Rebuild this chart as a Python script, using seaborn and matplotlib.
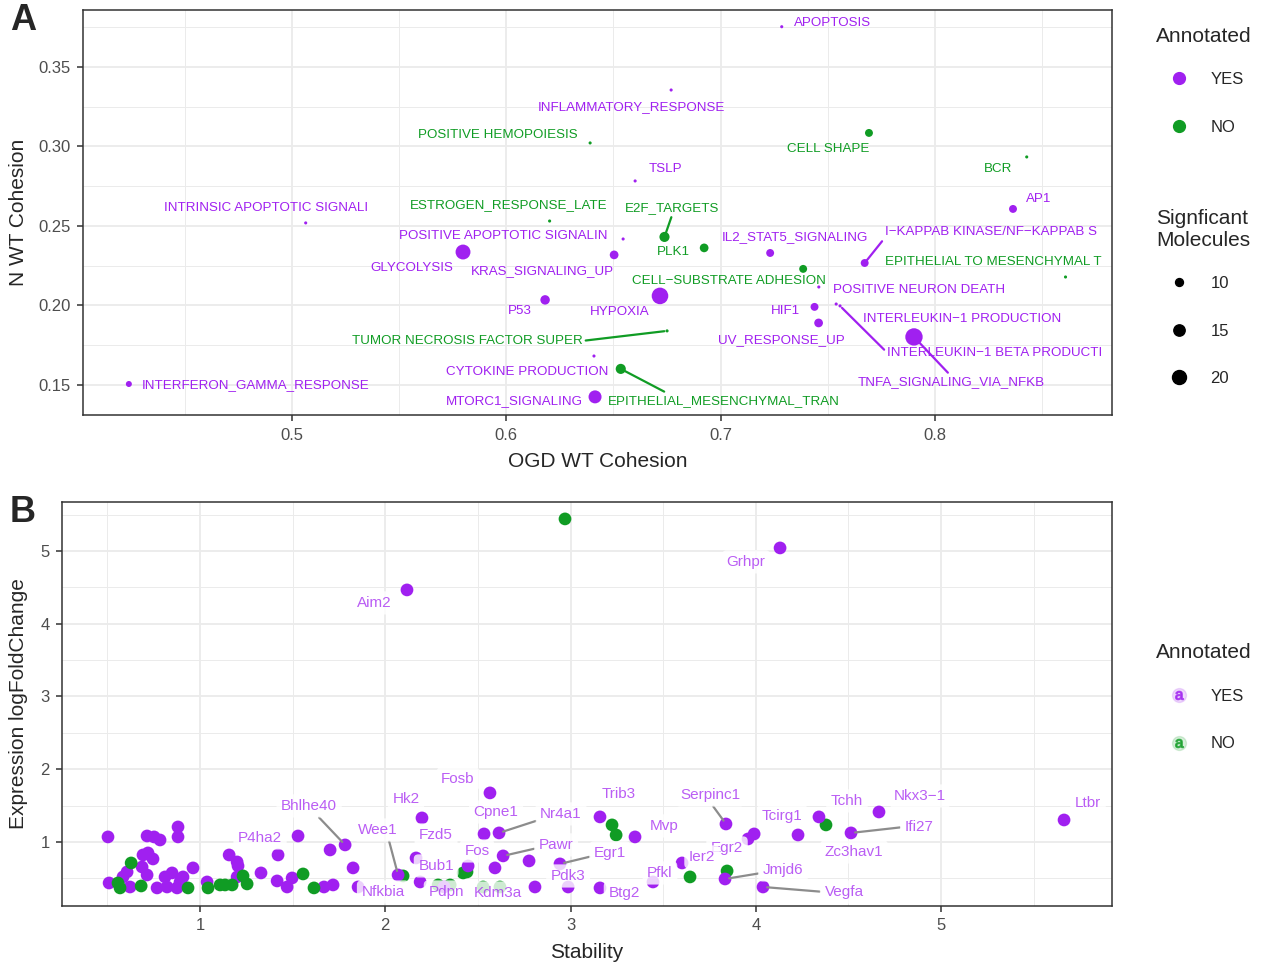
import matplotlib
matplotlib.use("Agg")
import matplotlib.pyplot as plt
from matplotlib.lines import Line2D
from matplotlib.ticker import MultipleLocator
import pandas as pd
import seaborn as sns

# ---- panel A: pathway cohesion ----
pathways = [
    "APOPTOSIS", "INFLAMMATORY_RESPONSE", "POSITIVE HEMOPOIESIS", "CELL SHAPE", "BCR",
    "TSLP", "AP1", "INTRINSIC APOPTOTIC SIGNALI", "ESTROGEN_RESPONSE_LATE",
    "POSITIVE APOPTOTIC SIGNALIN", "E2F_TARGETS", "PLK1", "GLYCOLYSIS", "KRAS_SIGNALING_UP",
    "IL2_STAT5_SIGNALING", "CELL\u2212SUBSTRATE ADHESION", "I\u2212KAPPAB KINASE/NF\u2212KAPPAB S",
    "EPITHELIAL TO MESENCHYMAL T", "POSITIVE NEURON DEATH", "HYPOXIA", "P53", "HIF1",
    "UV_RESPONSE_UP", "INTERLEUKIN\u22121 PRODUCTION", "INTERLEUKIN\u22121 BETA PRODUCTI",
    "TNFA_SIGNALING_VIA_NFKB", "TUMOR NECROSIS FACTOR SUPER", "CYTOKINE PRODUCTION",
    "EPITHELIAL_MESENCHYMAL_TRAN", "MTORC1_SIGNALING", "INTERFERON_GAMMA_RESPONSE",
]
ogd_cohesion = [0.7285, 0.6769, 0.6391, 0.7692, 0.8428, 0.6601, 0.8364, 0.5064, 0.6202,
                0.6545, 0.6738, 0.6923, 0.5798, 0.6503, 0.7231, 0.7385, 0.7672, 0.8609,
                0.7458, 0.6717, 0.6181, 0.7438, 0.7457, 0.7539, 0.7557, 0.7902, 0.6750,
                0.6409, 0.6534, 0.6414, 0.4239]
n_cohesion = [0.3753, 0.3355, 0.3022, 0.3085, 0.2934, 0.2783, 0.2607, 0.2519, 0.2531,
              0.2418, 0.2431, 0.2362, 0.2336, 0.2318, 0.2330, 0.2230, 0.2267, 0.2179,
              0.2116, 0.2060, 0.2035, 0.1991, 0.1890, 0.2009, 0.1997, 0.1802, 0.1840,
              0.1682, 0.1601, 0.1425, 0.1506]
annotated_a = ["YES", "YES", "NO", "NO", "NO", "YES", "YES", "YES", "NO", "YES", "NO", "NO",
               "YES", "YES", "YES", "NO", "YES", "NO", "YES", "YES", "YES", "YES", "YES",
               "YES", "YES", "YES", "NO", "YES", "NO", "YES", "YES"]
sig_molecules = [6, 6, 6, 10, 6, 6, 10, 6, 6, 6, 13, 11, 22, 11, 10, 10, 10, 6, 6, 26, 12,
                 10, 11, 6, 6, 28, 6, 6, 13, 18, 8]

# label placement (pixels from the point, y down) and repel segments (label attach point)
lab_dx_a = [51, -40, -92, -41, -29, 30, 26, -40, -41, -120, 8, -31, -51, -72, 25, -74, 126,
            -72, 100, -40, -25, -29, -37, 126, 155, 37, -200, -67, 103, -81, 127]
lab_dy_a = [-4, 17, -8, 16, 12, -12, -10, -15, -16, -3, -29, 4, 16, 16, -16, 12, -31, -15,
            3, 16, 11, 4, 17, 15, 47, 45, 10, 16, 32, 4, 1]
seg_a = {"E2F_TARGETS": (0.5, 0), "I\u2212KAPPAB KINASE/NF\u2212KAPPAB S": (0, 0),
         "INTERLEUKIN\u22121 BETA PRODUCTI": (0, 0.5), "TNFA_SIGNALING_VIA_NFKB": (0.5, 1),
         "TUMOR NECROSIS FACTOR SUPER": (1, 0.5), "EPITHELIAL_MESENCHYMAL_TRAN": (0.27, 1)}

# ---- panel B: gene stability vs expression ----
genes = ["Aim2", "Grhpr", "P4ha2", "Bhlhe40", "Wee1", "Nfkbia", "Hk2", "Fosb", "Cpne1",
         "Nr4a1", "Fzd5", "Bub1", "Pdpn", "Fos", "Pawr", "Kdm3a", "Egr1", "Pdk3", "Btg2",
         "Pfkl", "Egr2", "Ier2", "Mvp", "Trib3", "Serpinc1", "Jmjd6", "Vegfa", "Tcirg1",
         "Tchh", "Zc3hav1", "Ifi27", "Nkx3\u22121", "Ltbr"]
gene_stability = [2.117, 4.131, 1.421, 1.783, 2.069, 1.853, 2.198, 2.565, 2.533, 2.614,
                  2.166, 2.188, 2.317, 2.447, 2.636, 2.808, 2.943, 2.987, 3.159, 3.445,
                  3.958, 3.602, 3.348, 3.159, 3.839, 3.834, 4.039, 3.991, 4.341, 4.228,
                  4.514, 4.665, 5.664]
gene_lfc = [4.464, 5.041, 0.821, 0.959, 0.546, 0.381, 1.330, 1.674, 1.110, 1.124, 0.780,
            0.450, 0.381, 0.670, 0.808, 0.381, 0.698, 0.381, 0.368, 0.450, 1.041, 0.711,
            1.069, 1.344, 1.247, 0.491, 0.381, 1.110, 1.344, 1.096, 1.124, 1.412, 1.302]
lab_dx_b = [-33, -34, -18, -36, -20, 25, -16, -32, 12, 62, 20, 16, 2, 9, 53, -37, 50, 0,
            24, 7, -21, 20, 29, 19, -16, 58, 81, 28, 28, 56, 68, 41, 24]
lab_dy_b = [13, 14, -17, -39, -45, 5, -19, -14, -22, -19, -23, -16, 5, -15, -11, 6, -11,
            -11, 5, -9, 9, -6, -11, -23, -29, -9, 5, -18, -16, 17, -6, -16, -17]
seg_b = {"Bhlhe40": (0.6, 0), "Wee1": (0.75, 0), "Nr4a1": (0, 0.1), "Pawr": (0, 0.3),
         "Egr1": (0, 0.3), "Serpinc1": (0.5, 0), "Jmjd6": (0, 0.3), "Vegfa": (0, 0.5),
         "Ifi27": (0, 0.5)}

# unlabelled molecules
other_yes_stab = [0.503, 0.714, 0.752, 0.784, 0.881, 0.881, 0.692, 0.719, 0.746, 0.687,
                  0.606, 0.584, 0.714, 0.509, 0.622, 0.768, 0.811, 0.849, 0.822, 0.876,
                  0.908, 0.892, 0.962, 1.038, 1.157, 1.200, 1.205, 1.200, 1.329, 1.416,
                  1.470, 1.497, 1.529, 1.669, 1.718, 1.702, 1.826, 2.592, 2.776]
other_yes_lfc = [1.069, 1.082, 1.069, 1.027, 1.206, 1.069, 0.821, 0.849, 0.766, 0.656,
                 0.588, 0.519, 0.546, 0.436, 0.381, 0.368, 0.519, 0.574, 0.381, 0.368,
                 0.519, 0.450, 0.643, 0.450, 0.821, 0.725, 0.670, 0.519, 0.574, 0.464,
                 0.381, 0.505, 1.082, 0.381, 0.409, 0.890, 0.643, 0.643, 0.739]
other_no_stab = [0.557, 0.568, 0.628, 0.682, 0.935, 1.043, 1.108, 1.135, 1.173, 1.232,
                 1.254, 1.556, 1.615, 2.096, 2.285, 2.350, 2.420, 2.441, 2.528, 2.619,
                 3.224, 3.246, 3.645, 3.845, 4.379, 2.970]
other_no_lfc = [0.436, 0.368, 0.711, 0.395, 0.368, 0.368, 0.409, 0.409, 0.409, 0.533,
                0.423, 0.560, 0.368, 0.533, 0.409, 0.409, 0.574, 0.588, 0.381, 0.381,
                1.234, 1.096, 0.519, 0.601, 1.234, 5.440]

purple = "#A020F0"
green = "#109C24"
palette = {"YES": purple, "NO": green}
SIZE_NORM = (6, 30)
SIZES = (5, 170)


def size_area(v):
    return SIZES[0] + (v - SIZE_NORM[0]) / (SIZE_NORM[1] - SIZE_NORM[0]) * (SIZES[1] - SIZES[0])


sns.set_theme(style="whitegrid")
plt.rcParams["font.family"] = ["Liberation Sans", "DejaVu Sans"]


def style_axes(ax, major_x, minor_x, major_y, minor_y):
    ax.xaxis.set_major_locator(MultipleLocator(major_x))
    ax.xaxis.set_minor_locator(MultipleLocator(minor_x))
    ax.yaxis.set_major_locator(MultipleLocator(major_y))
    ax.yaxis.set_minor_locator(MultipleLocator(minor_y))
    ax.grid(which="major", color="#EBEBEB", lw=1.3)
    ax.grid(which="minor", color="#EBEBEB", lw=0.7)
    ax.set_axisbelow(True)
    for sp in ax.spines.values():
        sp.set_color("#333333")
        sp.set_linewidth(1.1)
    ax.tick_params(which="major", length=4, width=1.1, color="#333333",
                   labelsize=12, labelcolor="#4D4D4D", bottom=True, left=True, pad=5)
    ax.tick_params(which="minor", length=0)


fig = plt.figure(figsize=(12.69, 9.64), dpi=100)
axA = fig.add_axes([0.0654, 0.5695, 0.8109, 0.4201])
axB = fig.add_axes([0.0489, 0.0602, 0.8274, 0.4191])

dfA = pd.DataFrame({"pathway": pathways, "ogd": ogd_cohesion, "n": n_cohesion,
                    "annotated": annotated_a, "sig": sig_molecules,
                    "dx": lab_dx_a, "dy": lab_dy_a})
sns.scatterplot(data=dfA, x="ogd", y="n", hue="annotated", size="sig", palette=palette,
                sizes=SIZES, size_norm=SIZE_NORM, linewidth=0, legend=False, ax=axA, zorder=3)
for _, r in dfA.iterrows():
    col = palette[r["annotated"]]
    kw = {}
    if r["pathway"] in seg_a:
        kw["arrowprops"] = dict(arrowstyle="-", color=col, lw=1.6, shrinkA=0, shrinkB=2,
                                relpos=seg_a[r["pathway"]])
    axA.annotate(r["pathway"], (r["ogd"], r["n"]), xytext=(r["dx"], -r["dy"]),
                 textcoords="offset pixels", ha="center", va="center", color=col,
                 fontsize=9.6, zorder=4, **kw)
style_axes(axA, 0.1, 0.05, 0.05, 0.025)
axA.set_xlim(0.4025, 0.8826)
axA.set_ylim(0.1311, 0.3858)
axA.set_xlabel("OGD WT Cohesion", fontsize=15, labelpad=6.5)
axA.set_ylabel("N WT Cohesion", fontsize=15, labelpad=7)

dfB_lab = pd.DataFrame({"gene": genes, "stab": gene_stability, "lfc": gene_lfc,
                        "dx": lab_dx_b, "dy": lab_dy_b})
dfB = pd.concat([
    pd.DataFrame({"stab": other_yes_stab, "lfc": other_yes_lfc, "annotated": "YES"}),
    pd.DataFrame({"stab": other_no_stab, "lfc": other_no_lfc, "annotated": "NO"}),
    pd.DataFrame({"stab": gene_stability, "lfc": gene_lfc, "annotated": "YES"}),
], ignore_index=True)
sns.scatterplot(data=dfB, x="stab", y="lfc", hue="annotated", palette=palette, s=84,
                linewidth=0, legend=False, ax=axB, zorder=3)
text_col = matplotlib.colors.to_rgba(purple, 0.72)
for _, r in dfB_lab.iterrows():
    kw = {}
    if r["gene"] in seg_b:
        kw["arrowprops"] = dict(arrowstyle="-", color="#8C8C8C", lw=1.6, shrinkA=0, shrinkB=3,
                                relpos=seg_b[r["gene"]])
    axB.annotate(r["gene"], (r["stab"], r["lfc"]), xytext=(r["dx"], -r["dy"]),
                 textcoords="offset pixels", ha="center", va="center", color=text_col,
                 fontsize=11, zorder=4,
                 bbox=dict(boxstyle="round,pad=0.3", fc="white", ec="none", alpha=0.8), **kw)
style_axes(axB, 1, 0.5, 1, 0.5)
axB.set_xlim(0.255, 5.923)
axB.set_ylim(0.120, 5.673)
axB.set_xlabel("Stability", fontsize=15, labelpad=7)
axB.set_ylabel("Expression logFoldChange", fontsize=15, labelpad=9)

fig.text(23 / 1269, 1 - 20 / 964, "A", fontsize=26, fontweight="bold", ha="center", va="center")
fig.text(23 / 1269, 1 - 513 / 964, "B", fontsize=26, fontweight="bold", ha="center", va="center")

# legends: titles as separate text, keys via fig.legend
def legend_title(y_px, text):
    fig.text(1156 / 1269, 1 - y_px / 964, text, fontsize=15, ha="left", va="center",
             linespacing=1.2)


leg_kw = dict(loc="upper left", frameon=False, fontsize=12, labelspacing=1.95,
              handletextpad=1.2, borderpad=0, borderaxespad=0, handlelength=1.4)
legend_title(36, "Annotated")
hue_handles = [Line2D([], [], marker="o", ls="", color=purple, markersize=8.5),
               Line2D([], [], marker="o", ls="", color=green, markersize=8.5)]
fig.legend(hue_handles, ["YES", "NO"], bbox_to_anchor=(1167 / 1269, 1 - 72 / 964), **leg_kw)

legend_title(229, "Signficant\nMolecules")
size_handles = [Line2D([], [], marker="o", ls="", color="black",
                       markersize=size_area(v) ** 0.5) for v in (10, 15, 20)]
fig.legend(size_handles, ["10", "15", "20"], bbox_to_anchor=(1167 / 1269, 1 - 276 / 964),
           **leg_kw)

legend_title(653, "Annotated")
key_handles = []
for c in (purple, green):
    bg = Line2D([], [], marker="o", ls="", color=matplotlib.colors.to_rgba(c, 0.16),
                markersize=10)
    fg = Line2D([], [], marker="$\\mathregular{a}$", ls="", color=matplotlib.colors.to_rgba(c, 0.7),
                markersize=6)
    key_handles.append((bg, fg))
fig.legend(key_handles, ["YES", "NO"], bbox_to_anchor=(1167 / 1269, 1 - 689 / 964), **leg_kw)

fig.savefig("out.png", dpi=100)
